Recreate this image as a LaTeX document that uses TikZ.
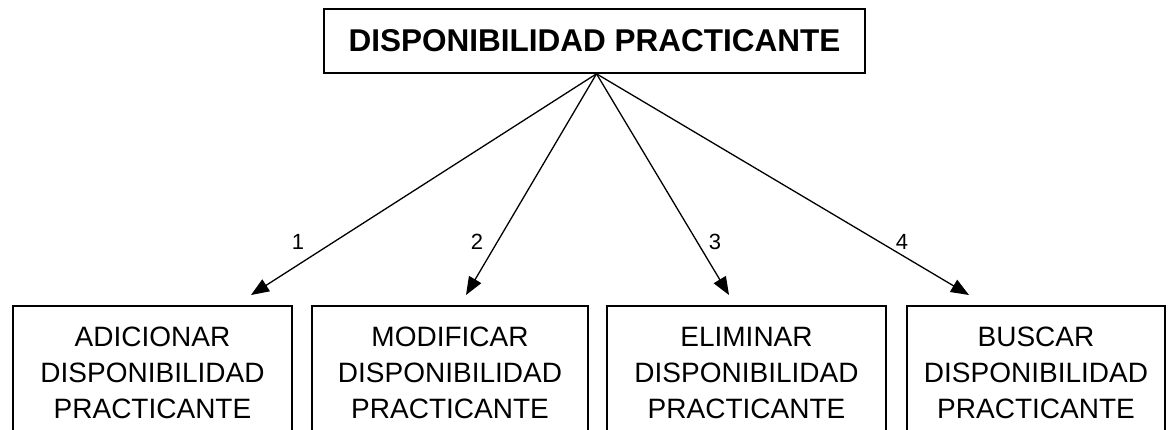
\documentclass[tikz,border=0pt]{standalone}
\usepackage{fontspec}
\setmainfont{Liberation Sans}
\usetikzlibrary{arrows.meta}
\begin{document}
\begin{tikzpicture}[x=1pt,y=-1pt,
  topbox/.style={draw=black, line width=1.6pt, minimum width=541pt, minimum height=64pt, inner sep=0pt,
    font=\fontsize{31.5}{36}\selectfont\bfseries},
  subbox/.style={draw=black, line width=1.6pt, minimum height=134pt, inner sep=0pt, align=center,
    font=\fontsize{28}{36}\selectfont},
  arr/.style={line width=1.3pt, -{Triangle[length=18pt,width=14pt]}},
  numlab/.style={font=\fontsize{22}{26}\selectfont, inner sep=0pt}]
\useasboundingbox (0,0) rectangle (1170,429);
\clip (0,0) rectangle (1170,429);
\node[topbox] (top) at (594.5,41) {DISPONIBILIDAD PRACTICANTE};
\node[subbox, minimum width=279pt] (b1) at (152.5,373) {ADICIONAR\\DISPONIBILIDAD\\PRACTICANTE};
\node[subbox, minimum width=276pt] (b2) at (450,373) {MODIFICAR\\DISPONIBILIDAD\\PRACTICANTE};
\node[subbox, minimum width=279pt] (b3) at (746.5,373) {ELIMINAR\\DISPONIBILIDAD\\PRACTICANTE};
\node[subbox, minimum width=258pt] (b4) at (1036,373) {BUSCAR\\DISPONIBILIDAD\\PRACTICANTE};
\coordinate (apex) at ([xshift=2pt]top.south);
\coordinate (t1) at (251,295);
\coordinate (t2) at (466,295);
\coordinate (t3) at (729,295);
\coordinate (t4) at (969,295);
\draw[arr] (apex) -- (t1);
\draw[arr] (apex) -- (t2);
\draw[arr] (apex) -- (t3);
\draw[arr] (apex) -- (t4);
\node[numlab] (l1) at (298,242) {1};
\node[numlab] (l2) at (477,242) {2};
\node[numlab] (l3) at (715,242) {3};
\node[numlab] (l4) at (902,242) {4};
\end{tikzpicture}
\end{document}
